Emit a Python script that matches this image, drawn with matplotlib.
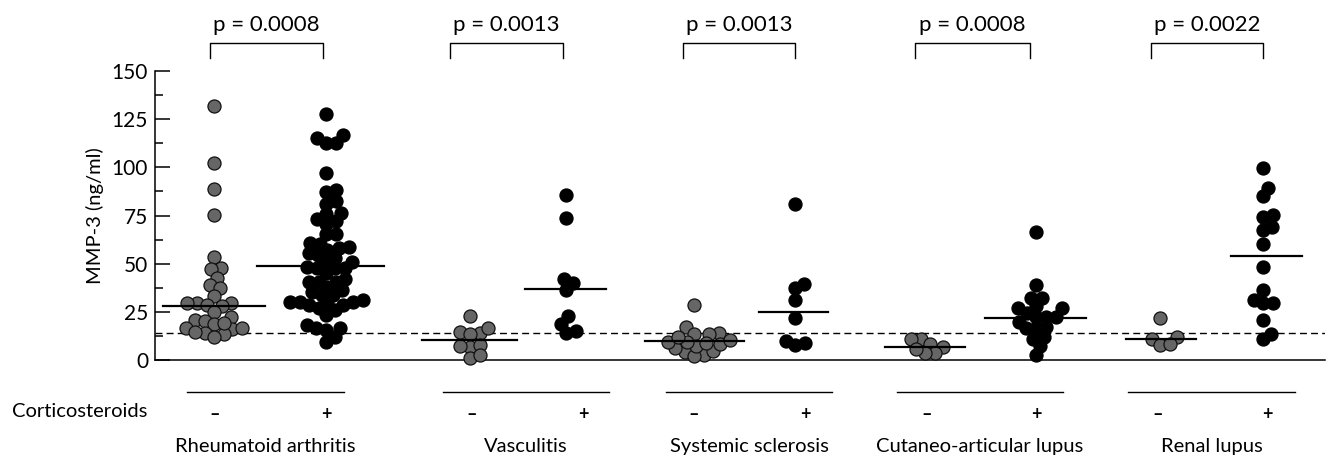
import matplotlib
matplotlib.use("Agg")
import matplotlib.pyplot as plt
import numpy as np

plt.rcParams['font.family'] = ['Lato', 'DejaVu Sans']

# MMP-3 (ng/ml); "neg" = no corticosteroids, "pos" = with
groups = ["Rheumatoid arthritis", "Vasculitis", "Systemic sclerosis",
          "Cutaneo-articular lupus", "Renal lupus"]
p_values = ["p = 0.0008", "p = 0.0013", "p = 0.0013", "p = 0.0008", "p = 0.0022"]

ra_neg = [132, 102, 89, 75.5, 53.5, 47.5, 47, 42.7, 38.9, 37.5, 33.3, 29.4, 29.4,
          28, 28.5, 29.4, 24.7, 22.5, 21, 20.2, 18.5, 16.7, 15.9, 16.7, 13.3, 14.1,
          14.3, 12.1, 19]
ra_pos = [127.8, 112.8, 115.2, 116.6, 112.8, 97, 87.2, 88.1, 82.4, 81.2, 76, 76.5,
          70.8, 72, 73, 65.3, 65.3, 60.4, 58.7, 57, 60.8, 57.9, 55.3, 53.2, 54.4,
          47.5, 48.3, 51, 47.5, 47.5, 51, 42.3, 44.9, 40.6, 40.6, 40.6, 35.4, 36.3,
          38, 33.7, 33.7, 28.5, 30.2, 31.1, 28.5, 29.4, 30.2, 30.2, 25.9, 26.8, 23.3,
          16.4, 18.1, 15.5, 16.4, 12.1, 9.5]
vasc_neg = [23, 14.7, 13.8, 16.7, 13.5, 6.9, 7.8, 7.3, 1.2, 2.6]
vasc_pos = [85.8, 73.9, 42.3, 40, 36.3, 22.8, 18.7, 14.1, 15.2]
ssc_neg = [28.8, 14.1, 16.9, 13.5, 13.5, 4.3, 2.6, 6.0, 4.8, 2.2, 7.3, 8.6, 8.3,
           9.5, 9.5, 12.1, 10.4]
ssc_pos = [81.2, 37.5, 39.7, 31.1, 21.6, 9, 10, 7.8]
cal_neg = [6.9, 10.7, 10.9, 8.3, 3.8, 3.8, 5.5]
cal_pos = [66.2, 38.9, 32, 32.4, 26.8, 26.8, 28, 22.5, 22.5, 22.5, 19.9, 16.4, 16.4,
           17.3, 12.1, 10.7, 7.3, 2.6, 24.2]
ren_neg = [21.9, 11.7, 10.7, 7.8, 8.1]
ren_pos = [99.8, 89.5, 85, 74.3, 75.1, 69.1, 67.4, 60.1, 48.3, 36.3, 29.4, 29.7,
           31.1, 20.7, 10.7, 13.5]

medians_neg = [28, 10.4, 9.8, 6.6, 10.7]
medians_pos = [48.7, 36.6, 24.7, 21.9, 54]
normal_limit = 14

series_neg = [ra_neg, vasc_neg, ssc_neg, cal_neg, ren_neg]
series_pos = [ra_pos, vasc_pos, ssc_pos, cal_pos, ren_pos]

# layout (x in pixel-like units along the axis)
sign_x_neg = [215, 472, 694, 927, 1158]
sign_x_pos = [326, 583, 805, 1036, 1267]
dots_x_neg = [214, 470, 694, 925, 1160]
dots_x_pos = [326, 566, 795, 1036, 1263]
med_neg_span = [(163, 265), (422, 517), (645, 744), (885, 965), (1126, 1196)]
med_pos_span = [(257, 384), (525, 606), (759, 828), (985, 1086), (1231, 1302)]
brackets = [(210, 323), (450, 563), (683, 795), (915, 1030), (1151, 1263)]
underlines = [(187, 344), (443, 609), (666, 832), (897, 1063), (1128, 1295)]

W, H = 1329, 459
Y_PX = 289 / 150.0   # pixels per ng/ml
DIAM = 10.0          # spacing of dots in pixels (dots overlap a bit)


def swarm(values, diam=DIAM):
    """simple beeswarm: offsets (px) that keep dots from piling up"""
    order = np.argsort(values)
    placed = []
    offs = np.zeros(len(values))
    for i in order:
        y = values[i] * Y_PX
        cands = [0.0]
        for px, py in placed:
            dy = y - py
            if abs(dy) < diam:
                dx = np.sqrt(diam ** 2 - dy ** 2)
                cands += [px + dx, px - dx]
        for c in sorted(cands, key=abs):
            if all((c - px) ** 2 + (y - py) ** 2 >= diam ** 2 - 1e-6 for px, py in placed):
                break
        placed.append((c, y))
        offs[i] = c
    return offs


fig = plt.figure(figsize=(W / 100, H / 100), dpi=100)
ax = fig.add_axes([155 / W, (H - 360) / H, (1325 - 155) / W, 289 / H])
ax.set_xlim(155, 1325)
ax.set_ylim(0, 150)

ax.spines['top'].set_visible(False)
ax.spines['right'].set_visible(False)
ax.spines['left'].set_linewidth(1.1)
ax.spines['bottom'].set_linewidth(1.1)
ax.set_xticks([])
ax.set_yticks(np.arange(0, 151, 25))
ax.set_yticks(np.arange(12.5, 150, 25), minor=True)
ax.tick_params(axis='y', which='major', direction='in', length=11, width=1.1,
               labelsize=15, pad=5)
ax.tick_params(axis='y', which='minor', direction='in', length=6, width=1.1)

ax.axhline(normal_limit, color='black', lw=1, dashes=(5, 3), zorder=1)

msize = 9.4 ** 2
for i in range(len(groups)):
    vn = np.array(series_neg[i])
    vp = np.array(series_pos[i])
    ax.scatter(dots_x_neg[i] + swarm(vn), vn, s=msize, facecolor='#666666',
               edgecolor='#111111', linewidth=0.9, zorder=3, clip_on=False)
    ax.scatter(dots_x_pos[i] + swarm(vp), vp, s=msize, facecolor='black',
               edgecolor='black', linewidth=0.9, zorder=3, clip_on=False)
    ax.plot(med_neg_span[i], [medians_neg[i]] * 2, color='black', lw=1.6, zorder=4)
    ax.plot(med_pos_span[i], [medians_pos[i]] * 2, color='black', lw=1.6, zorder=4)

    # bracket with p value
    b0, b1 = brackets[i]
    ax.plot([b0, b0, b1, b1], [156.7, 164.5, 164.5, 156.7], color='black', lw=1,
            clip_on=False)
    ax.text((b0 + b1) / 2, 171, p_values[i], ha='center', va='baseline', fontsize=16)

    # lower labels
    u0, u1 = underlines[i]
    ax.plot([u0, u1], [-16.6, -16.6], color='black', lw=1, clip_on=False)
    ax.text(sign_x_neg[i], -28.5, '–', ha='center', va='center', fontsize=13,
            fontweight='bold')
    ax.text(sign_x_pos[i], -28.5, '+', ha='center', va='center', fontsize=13,
            fontweight='bold')
    ax.text((u0 + u1) / 2, -47.6, groups[i], ha='center', va='baseline', fontsize=14.5)

ax.text(147, -29.4, 'Corticosteroids', ha='right', va='baseline', fontsize=14.5)
fig.text(95 / W, 1 - 216 / H, 'MMP-3 (ng/ml)', rotation=90, ha='center',
         va='center', fontsize=14.5)

fig.savefig('out.png', dpi=100)
